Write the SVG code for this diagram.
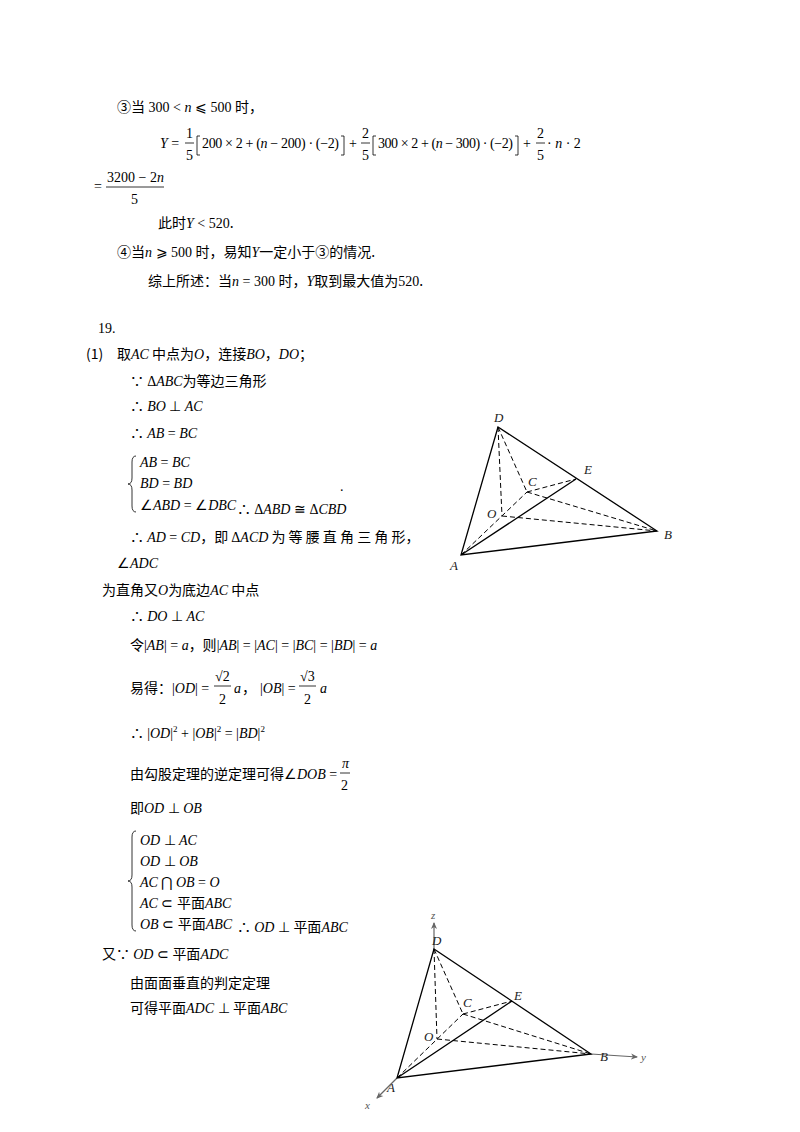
<svg xmlns="http://www.w3.org/2000/svg" width="800" height="1132" viewBox="0 0 800 1132">
<style>
text{font-family:"Noto Sans CJK SC","Noto Sans",sans-serif;font-size:14px;fill:#000}
.m{font-family:"Liberation Serif",serif;font-style:italic}
.r{font-family:"Liberation Serif",serif;font-style:normal}
.lab{font-family:"Liberation Serif",serif;font-style:italic;font-size:13px;fill:#222}
.ax{font-family:"Liberation Serif",serif;font-style:italic;font-size:11px;fill:#555}
.s{stroke:#000;stroke-width:1.3;fill:none}
.d{stroke:#000;stroke-width:1;stroke-dasharray:5,3;fill:none}
.a{stroke:#666;stroke-width:1.2;fill:none}
.bar{stroke:#000;stroke-width:0.8}
</style>
<defs><marker id="ar" markerWidth="8" markerHeight="8" refX="6" refY="4" orient="auto" markerUnits="userSpaceOnUse"><path d="M0,1 L7,4 L0,7 L2,4 Z" fill="#666"/></marker></defs>
<rect width="800" height="1132" fill="#fff"/>
<g id="text">
<text x="117" y="112">③当<tspan class="r"> 300 &lt; </tspan><tspan class="m">n</tspan><tspan class="r"> ⩽ 500 </tspan>时，</text>
<text x="160" y="148" class="r"><tspan class="m">Y</tspan> =</text>
<text x="186" y="138" class="r">1</text><line class="bar" x1="185" y1="143" x2="194" y2="143"/><text x="186" y="160" class="r">5</text>
<path class="bar" fill="none" d="M200,136 L197,136 L197,155 L200,155 M341,136 L344,136 L344,155 L341,155 M376,136 L373,136 L373,155 L376,155 M515,136 L518,136 L518,155 L515,155"/>
<text x="202" y="148" class="r" textLength="137" lengthAdjust="spacing">200 × 2 + (<tspan class="m">n</tspan> − 200) · (−2)</text>
<text x="349" y="148" class="r">+</text>
<text x="362" y="138" class="r">2</text><line class="bar" x1="361" y1="143" x2="370" y2="143"/><text x="362" y="160" class="r">5</text>
<text x="378" y="148" class="r" textLength="135" lengthAdjust="spacing">300 × 2 + (<tspan class="m">n</tspan> − 300) · (−2)</text>
<text x="523" y="148" class="r">+</text>
<text x="537" y="138" class="r">2</text><line class="bar" x1="536" y1="143" x2="545" y2="143"/><text x="537" y="160" class="r">5</text>
<text x="547" y="148" class="r">· <tspan class="m">n</tspan> · 2</text>
<text x="94" y="191" class="r">=</text>
<text x="107" y="182" class="r">3200 − 2<tspan class="m">n</tspan></text>
<line class="bar" x1="106" y1="187" x2="164" y2="187"/>
<text x="131" y="204" class="r">5</text>
<text x="158" y="228">此时<tspan class="m">Y</tspan><tspan class="r"> &lt; 520</tspan>.</text>
<text x="117" y="257">④当<tspan class="m">n</tspan><tspan class="r"> ⩾ 500 </tspan>时，易知<tspan class="m">Y</tspan>一定小于③的情况.</text>
<text x="148" y="286">综上所述：当<tspan class="m">n</tspan><tspan class="r"> = 300 </tspan>时，<tspan class="m">Y</tspan>取到最大值为<tspan class="r">520</tspan>.</text>
<text x="98" y="333" class="r">19.</text>
<text x="86" y="359" font-size="11">(1)</text>
<text x="117" y="359">取<tspan class="m">AC</tspan> 中点为<tspan class="m">O</tspan>，连接<tspan class="m">BO</tspan>，<tspan class="m">DO</tspan>；</text>
<text x="130" y="386">∵ <tspan class="r">Δ</tspan><tspan class="m">ABC</tspan>为等边三角形</text>
<text x="130" y="411">∴ <tspan class="m">BO</tspan><tspan class="r"> ⊥ </tspan><tspan class="m">AC</tspan></text>
<text x="130" y="438">∴ <tspan class="m">AB</tspan><tspan class="r"> = </tspan><tspan class="m">BC</tspan></text>
<path class="bar" fill="none" d="M136,456 Q132,456 132,462 L132,478 Q132,484 128,484 Q132,484 132,490 L132,506 Q132,512 136,512"/>
<text x="140" y="467" class="m">AB <tspan class="r">=</tspan> BC</text>
<text x="140" y="488" class="m">BD <tspan class="r">=</tspan> BD</text>
<text x="140" y="510" class="m"><tspan class="r">∠</tspan>ABD <tspan class="r">= ∠</tspan>DBC</text>
<text x="237" y="514" font-size="13">∴ <tspan class="r">Δ</tspan><tspan class="m">ABD</tspan><tspan class="r"> ≅ Δ</tspan><tspan class="m">CBD</tspan></text>
<text x="340" y="491" class="r">.</text>
<text x="130" y="542">∴  <tspan class="m">AD</tspan><tspan class="r"> = </tspan><tspan class="m">CD</tspan>，即 <tspan class="r">Δ</tspan><tspan class="m">ACD</tspan> 为 等 腰 直 角 三 角 形，</text>
<text x="117" y="568" class="r">∠<tspan class="m">ADC</tspan></text>
<text x="102" y="595">为直角又<tspan class="m">O</tspan>为底边<tspan class="m">AC</tspan> 中点</text>
<text x="130" y="621">∴ <tspan class="m">DO</tspan><tspan class="r"> ⊥ </tspan><tspan class="m">AC</tspan></text>
<text x="130" y="650">令<tspan class="r">|</tspan><tspan class="m">AB</tspan><tspan class="r">| = </tspan><tspan class="m">a</tspan>，则<tspan class="r">|</tspan><tspan class="m">AB</tspan><tspan class="r">| = |</tspan><tspan class="m">AC</tspan><tspan class="r">| = |</tspan><tspan class="m">BC</tspan><tspan class="r">| = |</tspan><tspan class="m">BD</tspan><tspan class="r">| = </tspan><tspan class="m">a</tspan></text>
<text x="130" y="693">易得：<tspan class="r">|</tspan><tspan class="m">OD</tspan><tspan class="r">| =</tspan></text>
<text x="215" y="681" class="r">√2</text><line class="bar" x1="214" y1="686" x2="231" y2="686"/><text x="219" y="704" class="r">2</text>
<text x="234" y="693" class="m">a</text><text x="242" y="693">，</text>
<text x="260" y="693" class="r">|<tspan class="m">OB</tspan>| =</text>
<text x="300" y="681" class="r">√3</text><line class="bar" x1="299" y1="686" x2="316" y2="686"/><text x="304" y="704" class="r">2</text>
<text x="320" y="693" class="m">a</text>
<text x="130" y="738">∴ <tspan class="r">|</tspan><tspan class="m">OD</tspan><tspan class="r">|</tspan><tspan class="r" font-size="9" dy="-6">2</tspan><tspan class="r" dy="6"> + |</tspan><tspan class="m">OB</tspan><tspan class="r">|</tspan><tspan class="r" font-size="9" dy="-6">2</tspan><tspan class="r" dy="6"> = |</tspan><tspan class="m">BD</tspan><tspan class="r">|</tspan><tspan class="r" font-size="9" dy="-6">2</tspan></text>
<text x="130" y="779">由勾股定理的逆定理可得<tspan class="r">∠</tspan><tspan class="m">DOB</tspan><tspan class="r"> =</tspan></text>
<text x="342" y="768" class="m">π</text><line class="bar" x1="340" y1="773" x2="350" y2="773"/><text x="341" y="790" class="r">2</text>
<text x="130" y="813">即<tspan class="m">OD</tspan><tspan class="r"> ⊥ </tspan><tspan class="m">OB</tspan></text>
<path class="bar" fill="none" d="M136,831 Q132,831 132,837 L132,875 Q132,881 128,881 Q132,881 132,887 L132,925 Q132,931 136,931"/>
<text x="140" y="845" class="m">OD <tspan class="r">⊥</tspan> AC</text>
<text x="140" y="866" class="m">OD <tspan class="r">⊥</tspan> OB</text>
<text x="140" y="887" class="m">AC <tspan class="r">⋂</tspan> OB <tspan class="r">=</tspan> O</text>
<text x="140" y="908"><tspan class="m">AC</tspan><tspan class="r"> ⊂ </tspan>平面<tspan class="m">ABC</tspan></text>
<text x="140" y="929"><tspan class="m">OB</tspan><tspan class="r"> ⊂ </tspan>平面<tspan class="m">ABC</tspan></text>
<text x="237" y="932">∴ <tspan class="m">OD</tspan><tspan class="r"> ⊥ </tspan>平面<tspan class="m">ABC</tspan></text>
<text x="102" y="959">又∵ <tspan class="m">OD</tspan><tspan class="r"> ⊂ </tspan>平面<tspan class="m">ADC</tspan></text>
<text x="130" y="988">由面面垂直的判定定理</text>
<text x="130" y="1013">可得平面<tspan class="m">ADC</tspan><tspan class="r"> ⊥ </tspan>平面<tspan class="m">ABC</tspan></text>
</g>
<g id="figure1">
<g id="connectors1">
<path class="s" d="M498,427 L461,555 L657,531 Z M461,555 L576,479"/>
<path class="d" d="M498,427 L502,516 M498,427 L527,492 M461,555 L527,492 M527,492 L576,479 M527,492 L657,531 M502,516 L657,531"/>
</g>
<text class="lab" x="494" y="422">D</text><text class="lab" x="584" y="474">E</text>
<text class="lab" x="528" y="486">C</text><text class="lab" x="487" y="518" fill="#666">O</text>
<text class="lab" x="664" y="539">B</text><text class="lab" x="450" y="570">A</text>
</g>
<g id="figure2">
<g id="connectors2">
<line class="a" x1="434" y1="949" x2="434" y2="923" marker-end="url(#ar)"/>
<line class="a" x1="591" y1="1054" x2="637" y2="1057" marker-end="url(#ar)"/>
<line class="a" x1="397" y1="1078" x2="377" y2="1098" marker-end="url(#ar)"/>
<path class="s" d="M434,949 L397,1078 L591,1054 Z M397,1078 L512,1001"/>
<path class="d" d="M434,949 L437,1039 M434,949 L463,1014 M397,1078 L463,1014 M463,1014 L512,1001 M463,1014 L591,1054 M437,1039 L591,1054"/>
</g>
<text class="ax" x="431" y="919">z</text><text class="ax" x="641" y="1061">y</text><text class="ax" x="365" y="1109">x</text>
<text class="lab" x="432" y="945">D</text><text class="lab" x="514" y="1000">E</text>
<text class="lab" x="463" y="1007">C</text><text class="lab" x="424" y="1041" fill="#666">O</text>
<text class="lab" x="600" y="1061">B</text><text class="lab" x="387" y="1092">A</text>
</g>
</svg>
